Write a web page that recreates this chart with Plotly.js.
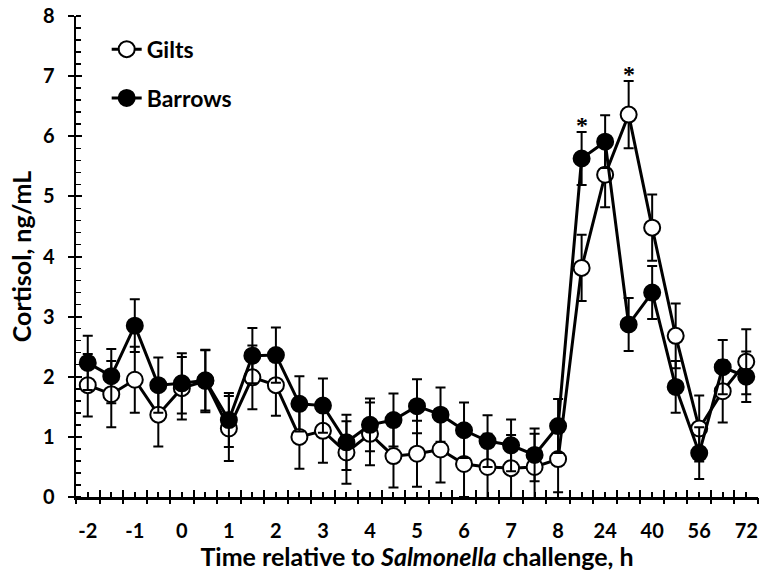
<!DOCTYPE html>
<html>
<head>
<meta charset="utf-8">
<script src="https://cdn.plot.ly/plotly-3.0.1.min.js"></script>
<style>html,body{margin:0;padding:0;background:#fff;}#chart{width:771px;height:571px;}</style>
</head>
<body>
<div id="chart"></div>
<script>
// Sampling times (h relative to Salmonella challenge), equally spaced on the chart
const times = ["-2","-1.5","-1","-0.5","0","0.5","1","1.5","2","2.5","3","3.5","4","4.5","5","5.5","6","6.5","7","7.5","8","16","24","32","40","48","56","64","72"];
// Tick labels shown (every other time point)
const shownLabels = ["-2","-1","0","1","2","3","4","5","6","7","8","24","40","56","72"];

// Cortisol, ng/mL
const gilts    = [1.86,1.71,1.95,1.37,1.81,1.93,1.14,1.99,1.86,1.00,1.10,0.74,1.05,0.68,0.72,0.79,0.55,0.50,0.48,0.50,0.63,3.81,5.36,6.36,4.48,2.68,1.14,1.76,2.25];
const giltsSE  = [0.52,0.55,0.55,0.53,0.52,0.52,0.54,0.53,0.51,0.53,0.53,0.52,0.52,0.52,0.55,0.55,0.55,0.55,0.55,0.55,0.55,0.55,0.54,0.56,0.55,0.54,0.55,0.52,0.54];
const barrows  = [2.23,2.01,2.85,1.86,1.89,1.94,1.28,2.35,2.36,1.55,1.52,0.91,1.20,1.28,1.51,1.37,1.11,0.93,0.86,0.70,1.18,5.63,5.91,2.87,3.40,1.83,0.73,2.16,2.00];
const barrowsSE= [0.45,0.45,0.44,0.46,0.50,0.50,0.45,0.46,0.46,0.46,0.45,0.46,0.44,0.44,0.45,0.45,0.46,0.43,0.43,0.44,0.45,0.44,0.44,0.44,0.44,0.43,0.43,0.45,0.42];

// Significance marks: [time label, series]
const sigMarks = [["16","barrows"],["32","gilts"]];

const xi = times.map((t, i) => i);
const tickText = times.map((t, i) => shownLabels.includes(t) && i % 2 === 0 ? t : "");
const halfTicks = [];
for (let i = 0; i <= times.length; i++) halfTicks.push(i - 0.5);

const FONT = "Lato, 'Open Sans', sans-serif";

const traceGilts = {
  x: xi, y: gilts, name: "Gilts", type: "scatter", mode: "lines+markers",
  line: {color: "#000", width: 3},
  marker: {size: 16, color: "#fff", line: {color: "#000", width: 2}},
  error_y: {type: "data", array: giltsSE, visible: true, color: "#000", thickness: 2, width: 5},
  legend: "legend"
};
const traceBarrows = {
  x: xi, y: barrows, name: "Barrows", type: "scatter", mode: "lines+markers",
  line: {color: "#000", width: 3},
  marker: {size: 16, color: "#000", line: {color: "#000", width: 2}},
  error_y: {type: "data", array: barrowsSE, visible: true, color: "#000", thickness: 2, width: 5},
  legend: "legend2"
};

const series = {gilts: [gilts, giltsSE], barrows: [barrows, barrowsSE]};
const annotations = sigMarks.map(([t, s]) => {
  const i = times.indexOf(t);
  return {
    x: i, y: series[s][0][i] + series[s][1][i], xref: "x", yref: "y",
    text: "*", showarrow: false, yanchor: "bottom", yshift: -8,
    font: {family: "'Liberation Serif', serif", size: 24, color: "#000"}
  };
});

const axisCommon = {showgrid: false, zeroline: false};
const legendFont = {family: FONT, size: 23, weight: "bold", color: "#000"};

const layout = {
  width: 771, height: 571,
  margin: {l: 76, r: 13, t: 16, b: 74},
  paper_bgcolor: "#fff", plot_bgcolor: "#fff",
  font: {family: FONT, color: "#000", size: 20, weight: "bold"},
  showlegend: true,
  legend: {x: 0.045, y: 0.931, xanchor: "left", yanchor: "middle", bgcolor: "rgba(0,0,0,0)", font: legendFont},
  legend2: {x: 0.045, y: 0.8295, xanchor: "left", yanchor: "middle", bgcolor: "rgba(0,0,0,0)", font: legendFont},
  xaxis: Object.assign({}, axisCommon, {
    range: [-0.5, times.length - 0.5],
    tickmode: "array", tickvals: xi, ticktext: tickText,
    ticks: "inside", ticklen: 5, tickwidth: 2, tickcolor: "#000",
    ticklabelstandoff: 14,
    showline: true, linewidth: 2.5, linecolor: "#000",
    tickfont: {family: FONT, size: 20, weight: "bold", color: "#000"},
    title: {text: "Time relative to <i>Salmonella</i> challenge, h", font: {family: FONT, size: 25, weight: "bold", color: "#000"}, standoff: 0}
  }),
  xaxis2: Object.assign({}, axisCommon, {
    overlaying: "x", anchor: "y", side: "bottom",
    range: [-0.5, times.length - 0.5],
    tickmode: "array", tickvals: halfTicks, showticklabels: false,
    ticks: "outside", ticklen: 6, tickwidth: 2, tickcolor: "#000", showline: false
  }),
  xaxis3: Object.assign({}, axisCommon, {
    overlaying: "x", anchor: "y", side: "bottom",
    range: [-0.5, times.length - 0.5],
    tickmode: "array", tickvals: halfTicks, showticklabels: false,
    ticks: "inside", ticklen: 7, tickwidth: 2, tickcolor: "#000", showline: false
  }),
  yaxis: Object.assign({}, axisCommon, {
    range: [0, 8], dtick: 1, tick0: 0,
    ticks: "outside", ticklen: 6, tickwidth: 2, tickcolor: "#000",
    ticklabelstandoff: 9,
    minor: {dtick: 0.2, ticks: "inside", ticklen: 5, tickwidth: 1.5, tickcolor: "#000"},
    showline: true, linewidth: 2.5, linecolor: "#000",
    tickfont: {family: FONT, size: 20, weight: "bold", color: "#000"},
    title: {text: "Cortisol, ng/mL", font: {family: FONT, size: 25, weight: "bold", color: "#000"}, standoff: 4}
  }),
  yaxis2: Object.assign({}, axisCommon, {
    overlaying: "y", anchor: "x", side: "left",
    range: [0, 8], dtick: 1, tick0: 0, showticklabels: false,
    ticks: "inside", ticklen: 6, tickwidth: 2, tickcolor: "#000", showline: false
  }),
  annotations: annotations
};

// invisible helpers so overlay axes are drawn
const helperX2 = {x: [], y: [], xaxis: "x2", yaxis: "y", showlegend: false, hoverinfo: "skip", type: "scatter"};
const helperX3 = {x: [], y: [], xaxis: "x3", yaxis: "y", showlegend: false, hoverinfo: "skip", type: "scatter"};
const helperY2 = {x: [], y: [], xaxis: "x", yaxis: "y2", showlegend: false, hoverinfo: "skip", type: "scatter"};

Plotly.newPlot("chart", [helperX2, helperX3, helperY2, traceGilts, traceBarrows], layout, {displayModeBar: false, staticPlot: true});
</script>
</body>
</html>
